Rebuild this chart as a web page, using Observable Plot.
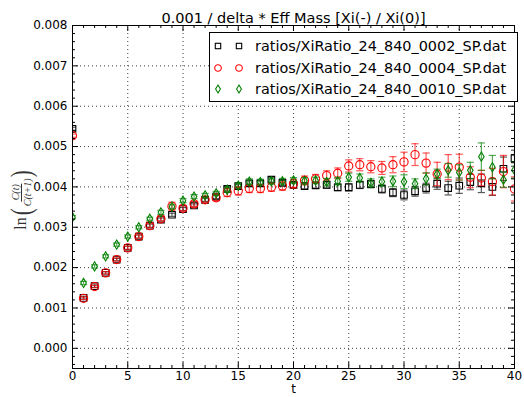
<!DOCTYPE html>
<html><head><meta charset="utf-8">
<script src="https://cdn.jsdelivr.net/npm/d3@7"></script>
<script src="https://cdn.jsdelivr.net/npm/@observablehq/plot@0.6"></script>
<style>
body{margin:0;background:#fff;}
#wrap{position:relative;width:524px;height:397px;font-family:"DejaVu Sans",sans-serif;overflow:hidden;}
#ylab{position:absolute;left:21px;top:199px;transform:translate(-50%,-50%) rotate(-90deg);font-family:"Liberation Serif","DejaVu Serif",serif;white-space:nowrap;display:flex;align-items:center;color:#333;}
#legend{position:absolute;left:209px;top:32px;width:309px;height:70px;border:1px solid #000;background:#fff;box-sizing:border-box;}
.lrow{position:absolute;left:0;height:20px;display:flex;align-items:center;font-size:14.4px;white-space:nowrap;}
</style></head><body><div id="wrap"></div>
<script>
const titleText = "0.001 / delta * Eff Mass [Xi(-) / Xi(0)]";
const xLabel = "t";
const seriesNames = ["ratios/XiRatio_24_840_0002_SP.dat", "ratios/XiRatio_24_840_0004_SP.dat", "ratios/XiRatio_24_840_0010_SP.dat"];
const seriesColors = ["#000000", "#ff0000", "#008000"];
const tVals = [0,1,2,3,4,5,6,7,8,9,10,11,12,13,14,15,16,17,18,19,20,21,22,23,24,25,26,27,28,29,30,31,32,33,34,35,36,37,38,39,40];

const v0002 = [0.00544,0.00125,0.00154,0.00187,0.00220,0.00249,0.00277,0.00304,0.00319,0.00331,0.00345,0.00354,0.00368,0.00376,0.00395,0.00402,0.00409,0.00409,0.00418,0.00410,0.00405,0.00402,0.00404,0.00405,0.00399,0.00399,0.00405,0.00407,0.00395,0.00386,0.00380,0.00389,0.00397,0.00408,0.00397,0.00403,0.00412,0.00409,0.00400,0.00445,0.00471];
const e0002 = [0.00004,0.00003,0.00003,0.00003,0.00003,0.00004,0.00004,0.00004,0.00004,0.00004,0.00004,0.00004,0.00004,0.00005,0.00005,0.00005,0.00006,0.00006,0.00006,0.00006,0.00007,0.00007,0.00007,0.00008,0.00008,0.00009,0.00009,0.00009,0.00010,0.00010,0.00012,0.00012,0.00012,0.00014,0.00017,0.00019,0.00019,0.00023,0.00021,0.00029,0.00020];

const v0004 = [0.00527,0.00124,0.00153,0.00187,0.00220,0.00249,0.00277,0.00304,0.00321,0.00352,0.00347,0.00358,0.00368,0.00373,0.00386,0.00390,0.00396,0.00396,0.00399,0.00402,0.00408,0.00416,0.00420,0.00428,0.00434,0.00452,0.00455,0.00450,0.00447,0.00455,0.00462,0.00480,0.00459,0.00432,0.00449,0.00449,0.00424,0.00422,0.00413,0.00438,0.00395];
const e0004 = [0.00004,0.00003,0.00003,0.00003,0.00004,0.00004,0.00004,0.00005,0.00005,0.00010,0.00006,0.00006,0.00006,0.00007,0.00010,0.00010,0.00010,0.00010,0.00010,0.00010,0.00011,0.00011,0.00011,0.00012,0.00013,0.00015,0.00015,0.00015,0.00016,0.00020,0.00024,0.00027,0.00025,0.00029,0.00031,0.00032,0.00026,0.00019,0.00033,0.00040,0.00030];

const v0010 = [0.00325,0.00162,0.00203,0.00228,0.00257,0.00277,0.00300,0.00321,0.00337,0.00351,0.00366,0.00376,0.00379,0.00384,0.00393,0.00403,0.00413,0.00412,0.00414,0.00414,0.00416,0.00415,0.00416,0.00412,0.00414,0.00424,0.00422,0.00410,0.00413,0.00414,0.00413,0.00408,0.00420,0.00432,0.00441,0.00436,0.00441,0.00475,0.00449,0.00418,0.00442];
const e0010 = [0.00004,0.00004,0.00004,0.00004,0.00004,0.00004,0.00004,0.00004,0.00005,0.00005,0.00005,0.00005,0.00005,0.00005,0.00006,0.00006,0.00007,0.00007,0.00007,0.00007,0.00007,0.00008,0.00008,0.00009,0.00009,0.00010,0.00010,0.00010,0.00011,0.00013,0.00017,0.00012,0.00015,0.00012,0.00017,0.00019,0.00020,0.00034,0.00029,0.00019,0.00020];

const xMajor = [0,5,10,15,20,25,30,35,40];
const xMinor = [1,2,3,4,6,7,8,9,11,12,13,14,16,17,18,19,21,22,23,24,26,27,28,29,31,32,33,34,36,37,38,39];
const yMajor = [0,0.001,0.002,0.003,0.004,0.005,0.006,0.007,0.008];
const yMinor = [-0.0004,-0.0002,0.0002,0.0004,0.0006,0.0008,0.0012,0.0014,0.0016,0.0018,0.0022,0.0024,0.0026,0.0028,0.0032,0.0034,0.0036,0.0038,0.0042,0.0044,0.0046,0.0048,0.0052,0.0054,0.0056,0.0058,0.0062,0.0064,0.0066,0.0068,0.0072,0.0074,0.0076,0.0078];

const W = 524, H = 397, mL = 72, mR = 10, mT = 25, mB = 29;
const innerW = W - mL - mR, innerH = H - mT - mB;

const rad = s => Math.sqrt(s / Math.PI);
const capSym = {draw(ctx, size){ const r = rad(size); ctx.moveTo(-r, 0); ctx.lineTo(r, 0); }};
const squareSym = {draw(ctx, size){ const r = rad(size); ctx.rect(-r, -r, 2*r, 2*r); }};
const circleSym = {draw(ctx, size){ const r = rad(size); ctx.moveTo(r, 0); ctx.arc(0, 0, r, 0, 2*Math.PI); }};
const thinDiamondSym = {draw(ctx, size){ const r = rad(size); ctx.moveTo(0, -r); ctx.lineTo(0.6*r, 0); ctx.lineTo(0, r); ctx.lineTo(-0.6*r, 0); ctx.closePath(); }};

const seriesVals = [v0002, v0004, v0010];
const seriesErrs = [e0002, e0004, e0010];
const seriesSym = [squareSym, circleSym, thinDiamondSym];
const seriesR = [3.3, 4.1, 4.6];

const seriesMarks = [];
seriesVals.forEach((vals, i) => {
  const rows = tVals.map((t, j) => ({t, v: vals[j], e: seriesErrs[i][j]}));
  const c = seriesColors[i];
  seriesMarks.push(
    Plot.ruleX(rows, {x: "t", y1: d => d.v - d.e, y2: d => d.v + d.e, stroke: c, strokeOpacity: 0.65, strokeWidth: 1.2, clip: true}),
    Plot.dot(rows, {x: "t", y: d => d.v - d.e, symbol: capSym, r: 3.6, stroke: c, strokeOpacity: 0.65, strokeWidth: 1.2, fill: "none", clip: true}),
    Plot.dot(rows, {x: "t", y: d => d.v + d.e, symbol: capSym, r: 3.6, stroke: c, strokeOpacity: 0.65, strokeWidth: 1.2, fill: "none", clip: true}),
    Plot.dot(rows, {x: "t", y: "v", symbol: seriesSym[i], r: seriesR[i], stroke: c, strokeWidth: 1.1, fill: "none", clip: true})
  );
});

const chart = Plot.plot({
  width: W, height: H,
  marginLeft: mL, marginRight: mR, marginTop: mT, marginBottom: mB,
  style: {fontFamily: "DejaVu Sans, sans-serif", fontSize: "12px", background: "#fff", color: "#000"},
  x: {domain: [0, 40], axis: null},
  y: {domain: [-0.0005, 0.008], axis: null},
  marks: [
    Plot.ruleX(xMajor, {x: d => d, stroke: "#000", strokeOpacity: 0.75, strokeDasharray: "1,3"}),
    Plot.ruleY(yMajor, {y: d => d, stroke: "#000", strokeOpacity: 0.75, strokeDasharray: "1,3"}),
    ...seriesMarks,
    Plot.tickX(xMajor, {x: d => d, insetTop: innerH - 6, stroke: "#000"}),
    Plot.tickX(xMajor, {x: d => d, insetBottom: innerH - 6, stroke: "#000"}),
    Plot.tickX(xMinor, {x: d => d, insetTop: innerH - 3, stroke: "#000"}),
    Plot.tickX(xMinor, {x: d => d, insetBottom: innerH - 3, stroke: "#000"}),
    Plot.tickY(yMajor, {y: d => d, insetRight: innerW - 6, stroke: "#000"}),
    Plot.tickY(yMajor, {y: d => d, insetLeft: innerW - 6, stroke: "#000"}),
    Plot.tickY(yMinor, {y: d => d, insetRight: innerW - 3, stroke: "#000"}),
    Plot.tickY(yMinor, {y: d => d, insetLeft: innerW - 3, stroke: "#000"}),
    Plot.frame({stroke: "#000", strokeWidth: 1}),
    Plot.axisX(xMajor, {tickSize: 0, tickPadding: 3, fontSize: 12, label: null, tickFormat: d => String(d)}),
    Plot.axisY(yMajor, {tickSize: 0, tickPadding: 5, fontSize: 12, label: null, tickFormat: d3.format(".3f")}),
    Plot.text([titleText], {frameAnchor: "top", dy: -13, fontSize: 14.5, fill: "#000"}),
    Plot.text([xLabel], {frameAnchor: "bottom", dy: 24, fontSize: 12, fill: "#000"})
  ]
});

const wrap = document.getElementById("wrap");
wrap.appendChild(chart);

// y-axis label ln( C(t) / C(t+1) )
const ylab = document.createElement("div");
ylab.id = "ylab";
ylab.innerHTML = '<span style="font-size:16px;">ln</span>' +
  '<span style="font-size:30px;line-height:1;transform:scaleX(0.7);display:inline-block;margin-left:1px;">(</span>' +
  '<span style="display:inline-flex;flex-direction:column;align-items:center;font-size:10px;font-style:italic;line-height:1.1;">' +
  '<span style="border-bottom:0.8px solid #333;padding:0 1px;">C(t)</span><span>C(t+1)</span></span>' +
  '<span style="font-size:30px;line-height:1;transform:scaleX(0.7);display:inline-block;">)</span>';
wrap.appendChild(ylab);

// legend
const legend = document.createElement("div");
legend.id = "legend";
const legendSyms = [
  c => `<rect x="-2.7" y="-2.7" width="5.4" height="5.4" fill="none" stroke="${c}" stroke-width="1.1"/>`,
  c => `<circle r="3.3" fill="none" stroke="${c}" stroke-width="1.1"/>`,
  c => `<path d="M0,-4L2.4,0L0,4L-2.4,0Z" fill="none" stroke="${c}" stroke-width="1.1"/>`
];
seriesNames.forEach((name, i) => {
  const row = document.createElement("div");
  row.className = "lrow";
  row.style.top = (3 + i * 21.5) + "px";
  const c = seriesColors[i];
  row.innerHTML = `<svg width="44" height="20" style="display:block"><g transform="translate(8,10)">${legendSyms[i](c)}</g><g transform="translate(29,10)">${legendSyms[i](c)}</g></svg><span style="margin-left:1px;">${name}</span>`;
  legend.appendChild(row);
});
wrap.appendChild(legend);
</script>
</body></html>
